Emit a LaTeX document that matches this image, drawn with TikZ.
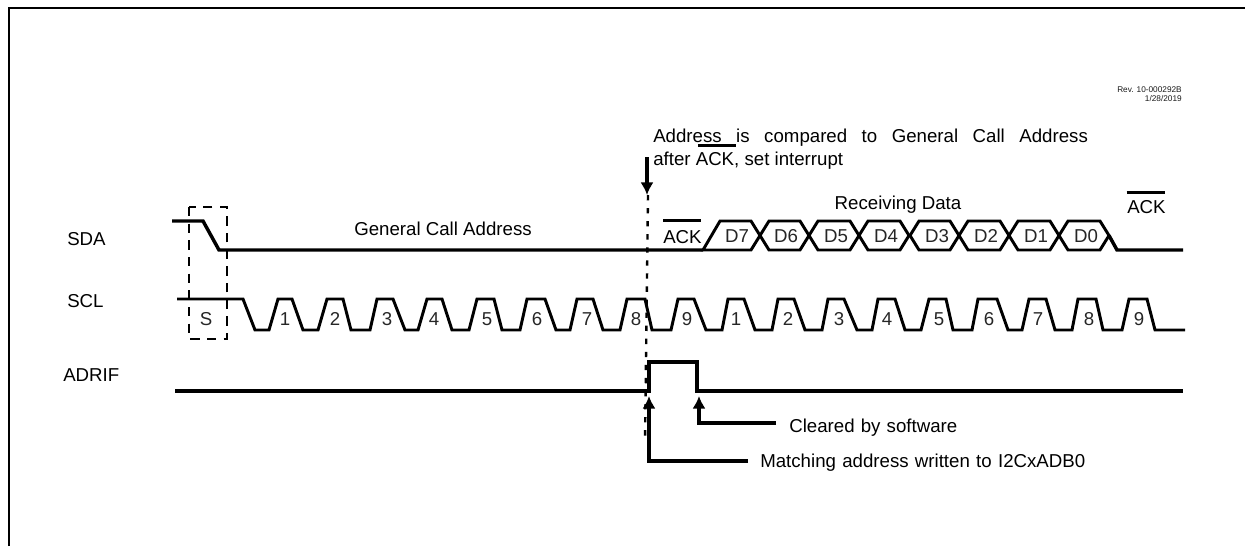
\documentclass[tikz,border=0pt]{standalone}
\usepackage{fontspec}
\setmainfont{Liberation Sans}
\usetikzlibrary{arrows.meta}

\newcommand{\ackbar}[2]{\rlap{\kern#1\raisebox{#2}{\rule{28.5pt}{2pt}}}ACK}

\tikzset{
  sig/.style={line width=2.6pt, line join=miter},
  bus/.style={line width=2.2pt, line join=miter},
  ptr/.style={line width=2.3pt, -{Latex[length=9.5pt,width=10pt]}},
  lbl/.style={inner sep=0pt, text height=10pt, text depth=0pt, font=\fontsize{14}{17}\selectfont},
  tick/.style={lbl, text=black!85}
}

\begin{document}
\begin{tikzpicture}[x=0.75pt, y=-0.75pt]
  \useasboundingbox (0,0) rectangle (1245,546);
  \draw[line width=1.9pt] (9,546) -- (9,8) -- (1245,8);

  % revision note
  \node[inner sep=0pt, anchor=north east, align=right, font=\fontsize{6.2}{6.9}\selectfont, text=black!90] (rev) at (1182,86) {Rev. 10-000292B\\1/28/2019};

  % signal names
  \node[lbl, anchor=west] (sdaName) at (67,239) {SDA};
  \node[lbl, anchor=west] (sclName) at (67,301) {SCL};
  \node[lbl, anchor=west] (adrName) at (63,375) {ADRIF};

  % start box and time marker
  \draw[line width=1.8pt, dash pattern=on 7pt off 5.5pt] (189,207) rectangle (227,339);
  \draw[line width=1.8pt, dash pattern=on 4pt off 5.8pt] (648,195) -- (645,442);
  \coordinate (markTop) at (647,157);
  \coordinate (markTip) at (647,195);
  \draw[ptr] (markTop) -- (markTip);

  % SDA
  \draw[sig] (172,221) -- (203,221) -- (219,250) -- (703,250);
  \draw[bus] (703,250) -- (720,221) -- (751,221) -- (760,235.5) -- (751,250) -- cycle;
  \foreach \a/\b in {769/800, 818/850, 868/900, 919/950, 968/1000, 1018/1050, 1068/1100}
    \draw[bus] (\a,250) -- (\a-9,235.5) -- (\a,221) -- (\b,221) -- (\b+9,235.5) -- (\b,250) -- cycle;
  \draw[sig] (1109,235.5) -- (1117,250) -- (1183,250);
  \foreach \x/\t in {737/D7, 786/D6, 836/D5, 886/D4, 937/D3, 986/D2, 1036/D1, 1086/D0}
    \node[tick] (data\t) at (\x,236) {\t};
  \node[lbl] (gca) at (443,229) {General Call Address};
  \node[lbl] (rxd) at (898,203) {Receiving Data};
  \node[lbl, anchor=west] (ackA) at (663,237) {\ackbar{0pt}{16.3pt}};
  \node[lbl, anchor=west] (ackB) at (1127,207) {\ackbar{-0.5pt}{14.7pt}};

  % SCL
  \draw[bus] (177,299) -- (243,299) -- (255,330) -- (269,330) -- (278,299) -- (292,299)
    -- (303,330) -- (318,330) -- (327,299) -- (343,299) -- (351,330) -- (370,330)
    -- (377,299) -- (393,299) -- (405,330) -- (418,330) -- (427,299) -- (442,299)
    -- (452,330) -- (469,330) -- (477,299) -- (494,299) -- (502,330) -- (520,330)
    -- (527,299) -- (545,299) -- (556,330) -- (570,330) -- (577,299) -- (593,299)
    -- (603,330) -- (620,330) -- (627,299) -- (645,299) -- (652,330) -- (671,330)
    -- (678,299) -- (694,299) -- (706,330) -- (722,330) -- (728,299) -- (744,299)
    -- (755,330) -- (772,330) -- (778,299) -- (794,299) -- (805,330) -- (822,330)
    -- (828,299) -- (844,299) -- (857,330) -- (872,330) -- (878,299) -- (895,299)
    -- (905,330) -- (921,330) -- (929,299) -- (946,299) -- (953,330) -- (972,330)
    -- (978,299) -- (997,299) -- (1008,330) -- (1022,330) -- (1029,299) -- (1046,299)
    -- (1055,330) -- (1072,330) -- (1078,299) -- (1096,299) -- (1103,330) -- (1122,330)
    -- (1129,299) -- (1147,299) -- (1155,330) -- (1185,330);
  \node[tick] (startS) at (206,319) {S};
  \foreach \x/\t [count=\i] in {285/1, 335/2, 387/3, 434/4, 487/5, 537/6, 587/7, 636/8, 687/9, 736/1, 788/2, 839/3, 887/4, 939/5, 989/6, 1038/7, 1089/8, 1139/9}
    \node[tick] (clk\i) at (\x,319) {\t};

  % ADRIF
  \draw[sig] (175,391) -- (649,391) -- (649,362) -- (697,362) -- (697,391) -- (1183,391);

  % notes
  \node[lbl, anchor=west] (noteA) at (653,136) {\makebox[326pt][s]{Address is compared to General Call Address}};
  \node[lbl, anchor=west] (noteB) at (653,159) {after \ackbar{1.5pt}{14pt}, set interrupt};
  \node[lbl, anchor=west] (cleared) at (789,426) {\makebox[126pt][s]{Cleared by software}};
  \node[lbl, anchor=west] (matching) at (760,461) {\makebox[243.75pt][s]{Matching address written to I2CxADB0}};
  \coordinate (clrEnd) at (776,423);
  \coordinate (clrTip) at (699,396);
  \coordinate (mchEnd) at (748,461);
  \coordinate (mchTip) at (649,396);
  \draw[ptr] (clrEnd) -| (clrTip);
  \draw[ptr] (mchEnd) -| (mchTip);
\end{tikzpicture}
\end{document}
